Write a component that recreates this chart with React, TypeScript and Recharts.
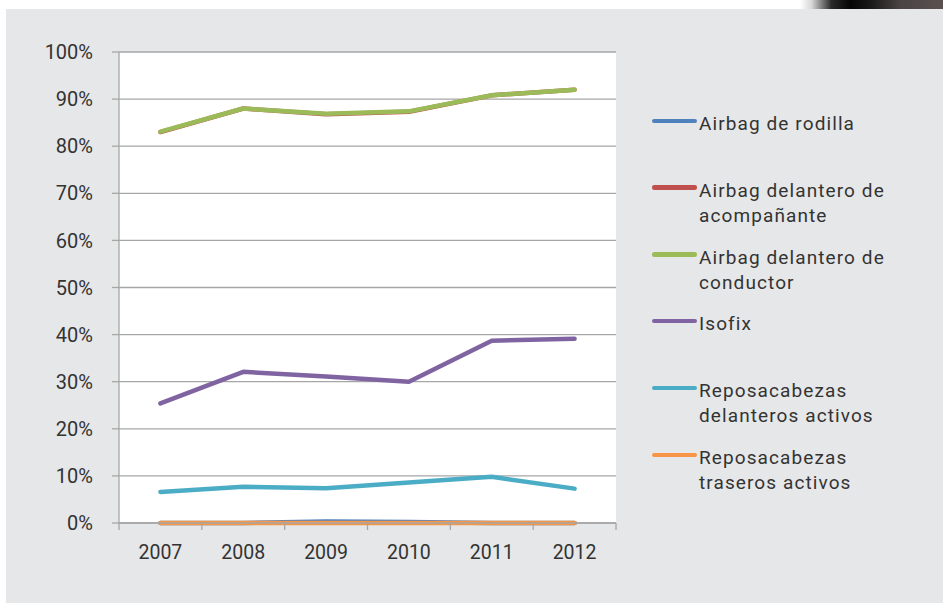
import React from 'react';
import { LineChart, Line, XAxis, YAxis, CartesianGrid, Legend } from 'recharts';

const years = ['2007', '2008', '2009', '2010', '2011', '2012'];
const rodilla = [0, 0, 0.3, 0.2, 0, 0];
const acompanante = [83.0, 88.0, 86.8, 87.3, 90.8, 92.0];
const conductor = [83.1, 88.0, 86.9, 87.4, 90.8, 92.0];
const isofix = [25.4, 32.1, 31.1, 30.0, 38.7, 39.1];
const delanteros = [6.6, 7.7, 7.4, 8.6, 9.8, 7.3];
const traseros = [0, 0, 0, 0, 0, 0];
const yTicks = [0, 10, 20, 30, 40, 50, 60, 70, 80, 90, 100];

const series = [
  { key: 'rodilla', name: 'Airbag de rodilla', lines: ['Airbag de rodilla'], color: '#4f81bd', values: rodilla },
  { key: 'acompanante', name: 'Airbag delantero de acompañante', lines: ['Airbag delantero de', 'acompañante'], color: '#c0504d', values: acompanante },
  { key: 'conductor', name: 'Airbag delantero de conductor', lines: ['Airbag delantero de', 'conductor'], color: '#9bbb59', values: conductor },
  { key: 'isofix', name: 'Isofix', lines: ['Isofix'], color: '#8064a2', values: isofix },
  { key: 'delanteros', name: 'Reposacabezas delanteros activos', lines: ['Reposacabezas', 'delanteros activos'], color: '#4bacc6', values: delanteros },
  { key: 'traseros', name: 'Reposacabezas traseros activos', lines: ['Reposacabezas', 'traseros activos'], color: '#f79646', values: traseros },
];

const data = years.map((y, i) => {
  const row: any = { x: i + 0.5, year: y };
  series.forEach((s) => { row[s.key] = s.values[i]; });
  return row;
});

const xTicks: number[] = [];
for (let i = 0; i <= years.length * 2; i++) xTicks.push(i / 2);

const FONT = 'Roboto, "DejaVu Sans", sans-serif';
const TEXT = '#333333';
const GRID = '#a6a6a6';

const XTick = (props: any) => {
  const { x, y, payload } = props;
  const v = payload.value;
  if (Number.isInteger(v)) {
    return <line x1={x} x2={x} y1={y} y2={y + 7} stroke={GRID} strokeWidth={1.3} />;
  }
  const label = years[Math.floor(v)];
  return (
    <text x={x} y={y + 36} textAnchor="middle" fill={TEXT} fontSize={19.5} fontFamily={FONT}>
      {label}
    </text>
  );
};

const renderLegend = () => (
  <div style={{ position: 'relative', width: 0, height: 0, overflow: 'visible', fontFamily: FONT }}>
    {series.map((s, i) => (
      <div key={s.key} style={{ position: 'absolute', left: 0, top: i * 66.8, width: 290 }}>
        <div style={{ position: 'absolute', left: 0, top: 7.5, width: 45, height: 4.5, borderRadius: 2.25, background: s.color }} />
        <div style={{ position: 'absolute', left: 47, top: 0, fontSize: 19, lineHeight: '25px', letterSpacing: '1.1px', color: TEXT, whiteSpace: 'nowrap' }}>
          {s.lines.map((l, j) => <div key={j}>{l}</div>)}
        </div>
      </div>
    ))}
  </div>
);

export default function App() {
  return (
    <div style={{ position: 'absolute', left: 0, top: 0, width: 943, height: 607, background: '#ffffff', overflow: 'hidden' }}>
      <div style={{ position: 'absolute', left: 6, top: 9, width: 937, height: 594, background: '#e6e7e8' }} />
      <div style={{ position: 'absolute', left: 800, top: 0, width: 143, height: 9, background: 'linear-gradient(to right, #ffffff 0%, #d8d8d8 8%, #2a2a2a 22%, #050505 35%, #1a1a1a 50%, #4a4444 70%, #5a5050 100%)' }} />
      <div style={{ position: 'absolute', left: 0, top: 0 }}>
        <LineChart width={943} height={607} data={data} margin={{ top: 52, right: 327, bottom: 44, left: 0 }}>
          <CartesianGrid vertical={false} stroke={GRID} strokeWidth={1.3} fill="#ffffff" />
          <XAxis
            dataKey="x"
            type="number"
            domain={[0, 6]}
            ticks={xTicks}
            interval={0}
            height={40}
            tickSize={0}
            tickMargin={0}
            tickLine={false}
            axisLine={{ stroke: GRID, strokeWidth: 1.3 }}
            tick={<XTick />}
            allowDecimals
          />
          <YAxis
            type="number"
            domain={[0, 100]}
            ticks={yTicks}
            interval={0}
            width={119}
            tickSize={7}
            tickMargin={19}
            tickFormatter={(v: number) => `${v}%`}
            tick={{ fill: TEXT, fontSize: 20, fontFamily: FONT }}
            tickLine={{ stroke: GRID, strokeWidth: 1.3 }}
            axisLine={{ stroke: GRID, strokeWidth: 1.3 }}
          />
          <Legend
            layout="vertical"
            verticalAlign="middle"
            align="right"
            content={renderLegend}
            wrapperStyle={{ position: 'absolute', left: 652, top: 111, width: 0, height: 0, overflow: 'visible' }}
          />
          {series.map((s) => (
            <Line
              key={s.key}
              dataKey={s.key}
              name={s.name}
              stroke={s.color}
              strokeWidth={4.5}
              strokeLinecap="round"
              strokeLinejoin="round"
              dot={false}
              activeDot={false}
              isAnimationActive={false}
            />
          ))}
        </LineChart>
      </div>
    </div>
  );
}
